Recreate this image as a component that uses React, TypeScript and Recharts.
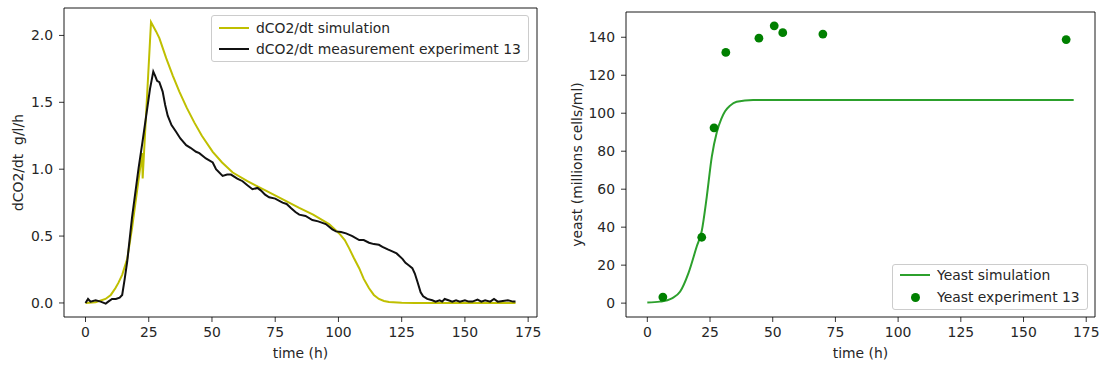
import { ComposedChart, Line, Scatter, XAxis, YAxis, ReferenceArea } from 'recharts'

const FONT = "'DejaVu Sans', sans-serif"
const TEXT = '#262626'

// left panel: CO2 production rate
const co2SimTime = [0, 4, 7.9, 10, 11.8, 13, 14.5, 16.5, 18.4, 20.4, 22.4, 22.6, 25.9, 27.9, 29.2, 31.9, 34.5, 37.1, 40, 43, 46, 50.3, 54, 58.2, 64, 71.3, 78, 84.5, 90, 96.3, 100.3, 102.5, 104.2, 106, 108.2, 110, 112.1, 114, 116, 118, 120, 125, 130, 140, 150, 160, 170]
const co2SimRate = [0, 0.005, 0.03, 0.06, 0.11, 0.15, 0.21, 0.33, 0.56, 0.84, 1.12, 0.93, 2.1, 2.03, 1.98, 1.83, 1.7, 1.58, 1.46, 1.35, 1.25, 1.13, 1.05, 0.975, 0.91, 0.84, 0.775, 0.71, 0.66, 0.59, 0.52, 0.47, 0.41, 0.34, 0.26, 0.18, 0.11, 0.06, 0.03, 0.015, 0.008, 0.002, 0, 0, 0, 0, 0]

const co2MeasTime = [0, 1, 2, 4, 6, 8, 9, 10.5, 12, 13.5, 14.5, 15.5, 16.5, 18.4, 21, 22.5, 24, 25.5, 26.8, 27.5, 28.3, 29.2, 30.5, 31.5, 32.5, 34, 35.8, 37.5, 39.8, 41.5, 43.7, 45, 47.6, 50.3, 51.6, 54.2, 56, 57.5, 60, 62.1, 64, 66, 68, 69.4, 71, 72.6, 75, 77.9, 79.5, 81.2, 83, 84.5, 87, 89.7, 92, 95, 97.6, 99, 101, 103, 105.5, 108.2, 110, 112.1, 114, 116, 117.4, 119.5, 121.3, 123, 125.3, 126.5, 127.9, 129.2, 130.2, 131.2, 132.5, 133.5, 135.1, 137.1, 138.4, 140, 141, 142, 143.5, 145, 146.5, 148, 150, 151.5, 153, 155, 156.5, 158, 160, 161.5, 163, 165, 167, 169, 170]
const co2MeasRate = [0, 0.03, 0.01, 0.02, 0.01, -0.005, 0.01, 0.03, 0.03, 0.04, 0.06, 0.18, 0.31, 0.64, 1.01, 1.2, 1.4, 1.6, 1.73, 1.7, 1.66, 1.65, 1.58, 1.48, 1.4, 1.33, 1.28, 1.23, 1.18, 1.16, 1.13, 1.12, 1.08, 1.05, 1.0, 0.95, 0.96, 0.96, 0.93, 0.91, 0.88, 0.85, 0.86, 0.84, 0.81, 0.79, 0.78, 0.75, 0.74, 0.71, 0.68, 0.66, 0.65, 0.62, 0.61, 0.59, 0.55, 0.535, 0.53, 0.52, 0.5, 0.47, 0.47, 0.45, 0.44, 0.435, 0.42, 0.4, 0.385, 0.37, 0.33, 0.3, 0.28, 0.26, 0.22, 0.16, 0.08, 0.05, 0.03, 0.02, 0.01, 0.02, 0.01, 0.03, 0.02, 0.01, 0.02, 0.01, 0.02, 0.01, 0.01, 0.025, 0.01, 0.02, 0.01, 0.03, 0.01, 0.015, 0.02, 0.01, 0.01]

// right panel: yeast concentration
const yeastSimTime = [0, 5, 8, 10, 13.1, 16.4, 19.7, 21.7, 23.7, 25.7, 27.7, 29.5, 31, 33, 35.6, 42.2, 50, 170]
const yeastSimCells = [0.3, 0.8, 1.5, 2.6, 6.1, 15.8, 29.8, 38, 56, 77, 90, 97, 101, 104, 106, 107, 107, 107]

const yeastExpTime = [6.2, 21.7, 26.6, 31.3, 44.5, 50.6, 54, 70, 167]
const yeastExpCells = [3.2, 34.7, 92.3, 132, 139.5, 146, 142.4, 141.7, 138.8]

const timeTicks = [0, 25, 50, 75, 100, 125, 150, 175]
const co2Ticks = [0, 0.5, 1, 1.5, 2]
const yeastTicks = [0, 20, 40, 60, 80, 100, 120, 140]

const co2SimData = co2SimTime.map((t, i) => ({ t, v: co2SimRate[i] }))
const co2MeasData = co2MeasTime.map((t, i) => ({ t, v: co2MeasRate[i] }))
const yeastSimData = yeastSimTime.map((t, i) => ({ t, v: yeastSimCells[i] }))
const yeastExpData = yeastExpTime.map((t, i) => ({ t, v: yeastExpCells[i] }))

const X_DOMAIN: [number, number] = [-8.5, 178.5]
const CO2_DOMAIN: [number, number] = [-0.105, 2.205]
const YEAST_DOMAIN: [number, number] = [-7.3, 153.3]

const tickStyle = { fill: TEXT, fontSize: 13.9, fontFamily: FONT }
const tickLine = { stroke: '#000', strokeWidth: 0.8 }

function xLabel(text: string) {
  return (props: any) => {
    const vb = props.viewBox
    return (
      <text x={vb.x + vb.width / 2} y={vb.y + 36} textAnchor="middle" dominantBaseline="central" fill={TEXT} fontSize={13.9} fontFamily={FONT}>
        {text}
      </text>
    )
  }
}

function yLabel(text: string, cx: number) {
  return (props: any) => {
    const vb = props.viewBox
    const cy = vb.y + vb.height / 2
    return (
      <text x={cx} y={cy} transform={`rotate(-90 ${cx} ${cy})`} textAnchor="middle" dominantBaseline="central" fill={TEXT} fontSize={13.9} fontFamily={FONT} style={{ whiteSpace: 'pre' }}>
        {text}
      </text>
    )
  }
}

const legendBox: React.CSSProperties = {
  position: 'absolute',
  background: 'rgba(255,255,255,0.8)',
  border: '1px solid #cccccc',
  borderRadius: 3,
  boxSizing: 'border-box',
  fontFamily: FONT,
  fontSize: 13.9,
  color: TEXT,
}

function LegendRow({ top, children, label }: { top: number; children: React.ReactNode; label: string }) {
  return (
    <div style={{ position: 'absolute', left: 0, top, height: 20, display: 'flex', alignItems: 'center', whiteSpace: 'nowrap' }}>
      <div style={{ width: 44, display: 'flex', alignItems: 'center', justifyContent: 'center' }}>{children}</div>
      <span>{label}</span>
    </div>
  )
}

export default function App() {
  return (
    <div style={{ position: 'relative', width: 1100, height: 367, background: '#fff', overflow: 'hidden' }}>
      <style>{'body{margin:0}'}</style>

      <div style={{ position: 'absolute', left: 0, top: 0 }}>
        <ComposedChart width={545} height={367} margin={{ top: 8, right: 8, left: 0, bottom: 0 }}>
          <XAxis dataKey="t" type="number" domain={X_DOMAIN} allowDataOverflow ticks={timeTicks} height={50} tick={tickStyle} tickLine={tickLine} axisLine={false} tickSize={5} tickMargin={5} label={{ content: xLabel('time (h)') }} />
          <YAxis type="number" domain={CO2_DOMAIN} allowDataOverflow ticks={co2Ticks} width={64} tick={tickStyle} tickLine={tickLine} axisLine={false} tickSize={5} tickMargin={6} tickFormatter={(v) => Number(v).toFixed(1)} label={{ content: yLabel('dCO2/dt  g/l/h', 17.5) }} />
          <Line data={co2SimData} dataKey="v" type="linear" stroke="#bfbf00" strokeWidth={2} dot={false} isAnimationActive={false} />
          <Line data={co2MeasData} dataKey="v" type="linear" stroke="#111111" strokeWidth={2} dot={false} isAnimationActive={false} />
          <ReferenceArea x1={X_DOMAIN[0]} x2={X_DOMAIN[1]} y1={CO2_DOMAIN[0]} y2={CO2_DOMAIN[1]} fill="none" stroke="#000" strokeWidth={0.9} ifOverflow="visible" />
        </ComposedChart>
      </div>

      <div style={{ position: 'absolute', left: 545, top: 0 }}>
        <ComposedChart width={555} height={367} margin={{ top: 12, right: 5, left: 0, bottom: 0 }}>
          <XAxis dataKey="t" type="number" domain={X_DOMAIN} allowDataOverflow ticks={timeTicks} height={50} tick={tickStyle} tickLine={tickLine} axisLine={false} tickSize={5} tickMargin={5} label={{ content: xLabel('time (h)') }} />
          <YAxis type="number" domain={YEAST_DOMAIN} allowDataOverflow ticks={yeastTicks} width={81} tick={tickStyle} tickLine={tickLine} axisLine={false} tickSize={5} tickMargin={6} label={{ content: yLabel('yeast (millions cells/ml)', 31.7) }} />
          <Line data={yeastSimData} dataKey="v" type="monotone" stroke="#2ca02c" strokeWidth={2} dot={false} isAnimationActive={false} />
          <Scatter data={yeastExpData} dataKey="v" fill="#008000" isAnimationActive={false} shape={(p: any) => <circle cx={p.cx} cy={p.cy} r={4.4} fill="#008000" />} />
          <ReferenceArea x1={X_DOMAIN[0]} x2={X_DOMAIN[1]} y1={YEAST_DOMAIN[0]} y2={YEAST_DOMAIN[1]} fill="none" stroke="#000" strokeWidth={0.9} ifOverflow="visible" />
        </ComposedChart>
      </div>

      <div style={{ ...legendBox, left: 211, top: 15, width: 318, height: 47 }}>
        <LegendRow top={2} label="dCO2/dt simulation">
          <div style={{ width: 30, height: 2, background: '#bfbf00' }} />
        </LegendRow>
        <LegendRow top={23} label="dCO2/dt measurement experiment 13">
          <div style={{ width: 30, height: 2, background: '#111111' }} />
        </LegendRow>
      </div>

      <div style={{ ...legendBox, left: 892, top: 264, width: 196, height: 46 }}>
        <LegendRow top={0} label="Yeast simulation">
          <div style={{ width: 30, height: 2, background: '#2ca02c' }} />
        </LegendRow>
        <LegendRow top={22} label="Yeast experiment 13">
          <div style={{ width: 9, height: 9, borderRadius: '50%', background: '#008000' }} />
        </LegendRow>
      </div>
    </div>
  )
}
